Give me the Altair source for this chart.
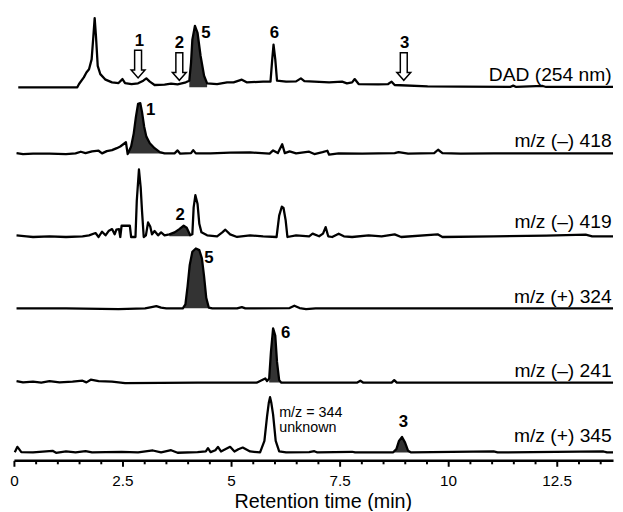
import altair as alt
import pandas as pd

FONT = "Liberation Sans"

# ---------------- data ----------------
trace_names = ["DAD (254 nm)", "m/z (–) 418", "m/z (–) 419",
               "m/z (+) 324", "m/z (–) 241", "m/z (+) 345"]
# vertical offset of each trace's baseline (stacked chromatograms)
trace_offsets = [378, 311, 227, 154, 79, 8]

dad_t = [0.10, 1.46, 1.50, 1.61, 1.67, 1.73, 1.79, 1.83, 1.86, 1.89, 1.93, 1.99, 2.11, 2.26, 2.41,
         2.50, 2.56, 2.71, 2.86, 2.98, 3.05, 3.13, 3.24, 3.47, 3.62, 3.77, 3.96, 4.04, 4.08, 4.11,
         4.17, 4.23, 4.30, 4.38, 4.45, 4.68, 4.91, 5.06, 5.25, 5.36, 5.74, 5.91, 5.95, 5.98, 6.02,
         6.06, 6.27, 6.50, 6.61, 6.69, 7.26, 7.56, 7.67, 7.79, 7.85, 7.94, 8.39, 8.62, 8.70, 8.77,
         9.53, 10.29, 11.43, 11.50, 11.57, 12.18, 12.26, 13.80]
dad_h = [0, 0, 3.3, 10, 15, 18.3, 28.3, 51.7, 70, 51.7, 21.7, 13.3, 7.7, 5, 4.3,
         8.3, 4.3, 3.3, 4, 6.7, 9, 5.7, 2.3, 2.7, 3.7, 3, 5, 6.7, 25, 48.3,
         62.3, 55, 31.7, 11.7, 4, 3.3, 5, 5, 7.7, 5, 5.7, 5.7, 28.3, 43.3, 28.3,
         6.7, 5.7, 6, 9, 6.3, 5, 5.7, 4, 5, 8.3, 3.3, 3, 3.3, 5.7, 2.3,
         1, 0.7, 0.3, 1.7, 0.3, 1.3, 0.3, 0.3]

mz418_t = [0.06, 0.21, 0.44, 0.82, 1.20, 1.42, 1.54, 1.65, 1.80, 1.95, 2.03, 2.14, 2.26, 2.37, 2.45,
           2.52, 2.58, 2.62, 2.70, 2.76, 2.81, 2.86, 2.91, 2.95, 3.00, 3.05, 3.13, 3.24, 3.36, 3.47,
           3.70, 3.77, 3.83, 4.08, 4.13, 4.19, 4.53, 4.98, 5.44, 5.89, 5.97, 6.08, 6.18, 6.24, 6.35,
           6.50, 6.80, 6.92, 7.11, 7.22, 7.26, 7.48, 8.02, 8.77, 8.86, 9.08, 9.68, 9.77, 9.87, 10.29,
           11.05, 12.56, 13.80]
mz418_h = [0.3, -0.7, -0.3, -0.3, -0.7, 0, 1.7, 0.3, 2, 2.7, 0, 2.3, 3.3, 5.3, 7,
           9.3, 11.3, -0.7, 7, 20.3, 37, 50.3, 51, 42, 27, 17, 10.3, 5.3, 1.3, 0,
           0, 3, -0.3, 0.3, 3.3, 0, 0, 0.7, 1, -0.3, 3, 0.3, 9.3, 0.3, 2,
           0, 1.7, -0.7, 1.3, 2.7, -1.3, 0, -0.3, 0.3, 1.3, -0.3, 0.3, 3.7, 0.3, -0.3,
           0, 0, 0]

mz419_t = [0.06, 0.29, 0.44, 0.82, 1.20, 1.58, 1.73, 1.88, 1.95, 2.03, 2.11, 2.18, 2.26, 2.32, 2.36,
           2.42, 2.45, 2.48, 2.67, 2.70, 2.80, 2.83, 2.88, 2.92, 2.95, 2.99, 3.04, 3.09, 3.14, 3.18,
           3.24, 3.32, 3.39, 3.47, 3.58, 3.70, 3.81, 3.91, 3.98, 4.06, 4.11, 4.14, 4.18, 4.23, 4.27,
           4.32, 4.45, 4.68, 4.80, 4.87, 4.98, 5.14, 5.44, 5.74, 6.05, 6.11, 6.17, 6.21, 6.26, 6.30,
           6.50, 6.80, 6.88, 7.03, 7.12, 7.18, 7.24, 7.33, 7.48, 7.60, 7.79, 8.17, 8.47, 8.77, 8.92,
           9.76, 9.87, 11.05, 12.26, 13.17, 13.32, 13.80]
mz419_h = [1, 0, -0.7, 0, -0.7, 0, 1, 3.3, -0.7, 4.7, 1, 5.3, 7.3, 2, 6.7,
           7.3, -0.7, 10.7, 10.7, -0.7, -0.7, 36, 67.7, 49.3, 26, -0.7, 1, 14, 10, 2,
           5.3, 1, 4, 1, 2, 4, 7.3, 10.7, 8.7, 1, 2, 29.3, 41.7, 32.7, 12.7,
           4, 1, 0, 4, 6.7, 2, -0.7, 1, 0, -0.7, 21, 30, 28.7, 16, -0.7,
           1, 0, 2.7, 0, 2.7, 9.3, 0, -0.7, 2.7, 0, -0.7, 1, 0, 2, -0.7,
           2, -0.7, 0, 0.7, 1.7, 0, 0]

mz324_t = [0.06, 1.20, 2.41, 3.02, 3.17, 3.28, 3.39, 3.51, 3.89, 3.95, 4.00, 4.05, 4.11, 4.19, 4.27,
           4.33, 4.38, 4.43, 4.49, 4.57, 5.14, 5.25, 5.33, 6.35, 6.46, 6.58, 6.73, 6.95, 13.80]
mz324_h = [0, 0, -0.7, 0, 1.3, 2.3, 0.7, 0, 0, 4, 22.3, 44, 57.3, 60.7, 59,
           50.7, 32.3, 10.7, 0.7, 0, 0, 1.3, 0, 0.3, 2.7, 0.3, -0.7, 0, 0]

mz241_t = [0.06, 0.21, 0.44, 0.63, 0.82, 1.05, 1.35, 1.58, 1.67, 1.77, 1.95, 2.26, 2.56, 4.23, 5.59,
           5.73, 5.79, 5.83, 5.88, 5.92, 5.97, 6.02, 6.06, 6.11, 6.16, 7.90, 7.98, 8.05, 8.70, 8.76,
           8.82, 13.80]
mz241_h = [1.3, 0, 0.7, -0.3, 1.3, 0, 0.7, 1.7, 0, 2.7, 1.3, 0.7, -0.7, -0.3, -0.3,
           2.7, 4, 1.3, 4, 30.7, 54.7, 47.3, 20.7, 2.3, -0.3, -0.3, 1.7, -0.3, -0.3, 2.3,
           -0.3, -0.3]

mz345_t = [0.02, 0.08, 0.12, 0.17, 0.44, 0.89, 0.97, 1.20, 1.42, 1.65, 1.80, 2.11, 2.48, 2.86, 3.20,
           3.39, 3.62, 3.77, 4.23, 4.42, 4.47, 4.53, 4.64, 4.70, 4.77, 4.89, 4.98, 5.08, 5.17, 5.27,
           5.44, 5.67, 5.77, 5.83, 5.87, 5.90, 5.93, 5.97, 6.03, 6.11, 6.27, 6.80, 6.92, 6.99, 7.79,
           7.86, 8.73, 8.81, 8.87, 8.94, 9.01, 9.08, 9.15, 11.05, 11.14, 13.58, 13.66, 13.80]
mz345_h = [0.3, 5.7, 3.3, 0.3, 0, 1.7, -0.3, 1, 0, 1.3, 0, 0.3, 0.7, 0, 2,
           0, 2.3, -0.3, 0.3, 1, 4.3, 0.3, 2.3, 5.7, 1, 3.7, 5.7, 1, 3.3, 5,
           1, 0, 11.7, 36.3, 50, 56, 50, 38.3, 11.7, 1, 0, 0.3, 1.3, 0, 0.7,
           0, 0, 3.3, 11.7, 15.7, 10, 1.7, 0, 1, 0, 1, 0, 0]

trace_times = [dad_t, mz418_t, mz419_t, mz324_t, mz241_t, mz345_t]
trace_heights = [dad_h, mz418_h, mz419_h, mz324_h, mz241_h, mz345_h]

# filled (identified) peaks: trace, start, end
fill_traces = ["DAD (254 nm)", "m/z (–) 418", "m/z (–) 419", "m/z (+) 324", "m/z (–) 241", "m/z (+) 345"]
fill_start = [4.04, 2.62, 3.58, 3.89, 5.88, 8.73]
fill_end = [4.45, 3.47, 4.06, 4.57, 6.16, 9.15]

# trace labels (right side)
label_t = [13.77] * 6
label_v = [384, 317, 235, 159, 84, 19]

# compound numbers
num_text = ["1", "2", "5", "6", "3", "1", "2", "5", "6", "3"]
num_t = [2.89, 3.81, 4.42, 6.00, 9.00, 3.15, 3.83, 4.49, 6.26, 8.97]
num_v = [420, 418, 428, 428, 418, 350, 244, 200, 124, 34]

# hollow arrows on the DAD trace
arrow_t = [2.86, 3.81, 8.98]
arrow_v = [401.5, 399, 399]

note_text = ["m/z = 344", "unknown"]
note_t = [6.11, 6.11]
note_v = [43.5, 28.5]

tick_values = [i * 0.5 for i in range(28)]

# ---------------- tables ----------------
rows = []
for name, off, ts, hs in zip(trace_names, trace_offsets, trace_times, trace_heights):
    if len(ts) != len(hs):
        raise ValueError(name)
    for t, h in zip(ts, hs):
        rows.append({"trace": name, "t": t, "v": off + h, "base": off})
df = pd.DataFrame(rows)

fill_tables = []
for name, t0, t1 in zip(fill_traces, fill_start, fill_end):
    sub = df[(df.trace == name) & (df.t >= t0 - 1e-9) & (df.t <= t1 + 1e-9)].reset_index(drop=True)
    fill_tables.append(sub)

labels_df = pd.DataFrame({"text": trace_names, "t": label_t, "v": label_v})
nums_df = pd.DataFrame({"text": num_text, "t": num_t, "v": num_v})
arrows_df = pd.DataFrame({"t": arrow_t, "v": arrow_v})
notes_df = pd.DataFrame({"text": note_text, "t": note_t, "v": note_v})

x_scale = alt.Scale(domain=[0, 13.8], nice=False, zero=False)
y_scale = alt.Scale(domain=[0, 450], nice=False, zero=False)

x_axis = alt.Axis(
    values=tick_values,
    labelExpr="datum.value % 2.5 === 0 ? format(datum.value, '~g') : ''",
    tickSize={"condition": {"test": "datum.value % 2.5 === 0", "value": 6}, "value": 3.5},
    tickWidth=2, tickColor="black",
    domainColor="black", domainWidth=2.5,
    labelFont=FONT, labelFontSize=15.5, labelColor="black", labelPadding=7,
    labelOverlap=False, labelFlush=False,
    title="Retention time (min)", titleFont=FONT, titleFontSize=20,
    titleFontWeight="normal", titleColor="black", titlePadding=3, titleX=313,
    grid=False,
)

X = alt.X("t:Q", scale=x_scale, axis=x_axis)
Y = alt.Y("v:Q", scale=y_scale, axis=None)

areas = [
    alt.Chart(sub).mark_area(color="#333333", fillOpacity=1, opacity=1).encode(
        x=X,
        y=alt.Y("v:Q", scale=y_scale, axis=None, stack=None),
        y2=alt.Y2("base"),
    )
    for sub in fill_tables
]

lines = alt.Chart(df).mark_line(color="black", strokeWidth=2.3, strokeJoin="round").encode(
    x=X, y=Y, detail="trace:N", order="t:Q"
)

arrow_path = "M -0.25 -1 L 0.25 -1 L 0.25 0.43 L 0.5 0.43 L 0 1 L -0.5 0.43 L -0.25 0.43 Z"
arrows = alt.Chart(arrows_df).mark_point(
    shape=arrow_path, size=784, filled=True, fill="white", stroke="black",
    strokeWidth=1.5, opacity=1, fillOpacity=1, strokeOpacity=1
).encode(x=X, y=Y)

trace_labels = alt.Chart(labels_df).mark_text(
    font=FONT, fontSize=19.5, align="right", baseline="alphabetic", color="black"
).encode(x=X, y=Y, text="text:N")

numbers = alt.Chart(nums_df).mark_text(
    font=FONT, fontSize=17, fontWeight="bold", align="center", baseline="alphabetic", color="black"
).encode(x=X, y=Y, text="text:N")

notes = alt.Chart(notes_df).mark_text(
    font=FONT, fontSize=14.5, align="left", baseline="alphabetic", color="black"
).encode(x=X, y=Y, text="text:N")

chart = alt.layer(*areas, lines, arrows, trace_labels, numbers, notes).properties(
    width=607, height=450,
    autosize=alt.AutoSizeParams(type="none"),
    padding={"left": 6, "top": 5, "right": 2, "bottom": 48},
).configure_view(stroke=None)

chart.save("out.html", embed_options={"renderer": "svg", "actions": False})
